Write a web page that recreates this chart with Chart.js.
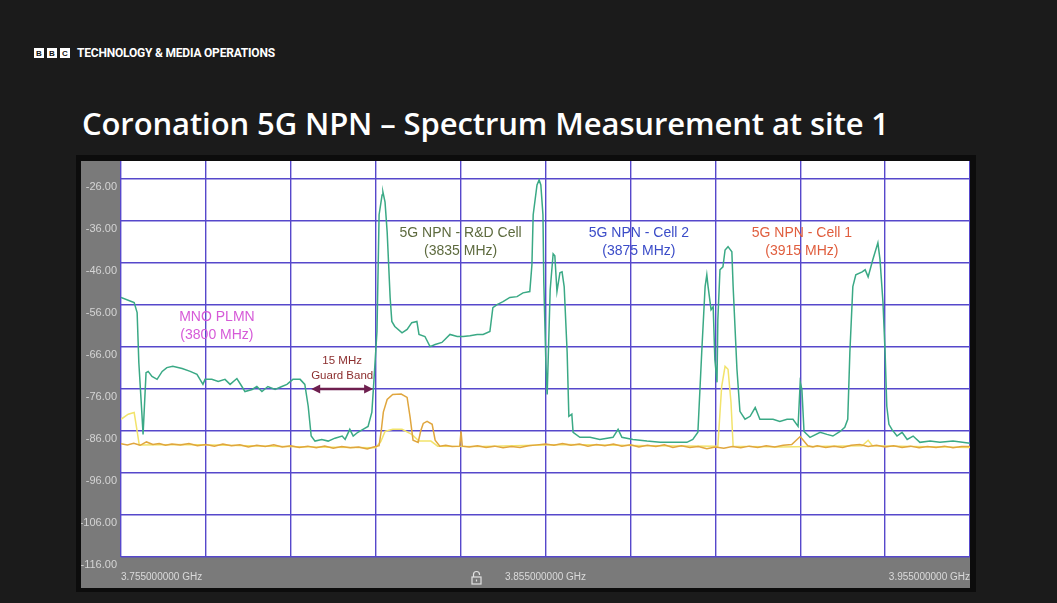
<!DOCTYPE html>
<html>
<head>
<meta charset="utf-8">
<script src="https://cdn.jsdelivr.net/npm/chart.js@4/dist/chart.umd.min.js"></script>
<style>
  html, body { margin: 0; padding: 0; background: #1b1b1b; }
  body { width: 1057px; height: 603px; position: relative; overflow: hidden; font-family: "Open Sans", sans-serif; }
  .brand { position: absolute; left: 34px; top: 46px; display: flex; align-items: center; color: #fff; }
  .brand .blk { width: 10px; height: 10px; background: #fff; color: #111; font: bold 8px "Liberation Sans", sans-serif;
    display: flex; align-items: center; justify-content: center; margin-right: 3px; }
  .brand .txt { margin-left: 4px; font: 700 12px Roboto, sans-serif; letter-spacing: -0.2px; }
  h1 { position: absolute; left: 82px; top: 102px; margin: 0; color: #fff; font: 600 31px "Open Sans", sans-serif; letter-spacing: -0.1px; white-space: nowrap; }
  .frame { position: absolute; left: 76px; top: 155px; width: 900px; height: 437px; background: #0c0c0c; }
  .wrap { position: absolute; left: 81px; top: 161px; width: 889px; height: 427px; }
</style>
</head>
<body>
<div class="brand"><span class="blk">B</span><span class="blk">B</span><span class="blk">C</span><span class="txt">TECHNOLOGY &amp; MEDIA OPERATIONS</span></div>
<h1>Coronation 5G NPN – Spectrum Measurement at site 1</h1>
<div class="frame"></div>
<div class="wrap"><canvas id="chart"></canvas></div>
<script>
// frequency in MHz, level in dBm
const greenFreq = [3755.0, 3757.6, 3758.1, 3758.8, 3759.2, 3759.9, 3760.2, 3760.9, 3761.4, 3762.3, 3763.5, 3764.7, 3765.8, 3767.2, 3769.4, 3771.3, 3772.9, 3774.3, 3774.8, 3776.4, 3777.9, 3779.5, 3780.7, 3782.3, 3783.3, 3784.2, 3785.9, 3787.0, 3788.2, 3789.6, 3791.3, 3792.9, 3794.1, 3795.5, 3797.2, 3798.3, 3799.1, 3799.8, 3800.7, 3802.3, 3803.8, 3805.4, 3807.1, 3807.8, 3808.9, 3809.7, 3810.8, 3812.0, 3813.2, 3814.1, 3814.6, 3815.3, 3815.8, 3816.5, 3816.7, 3817.2, 3817.7, 3818.4, 3818.8, 3819.5, 3821.2, 3822.4, 3823.5, 3824.7, 3825.2, 3826.6, 3827.8, 3829.0, 3830.6, 3832.5, 3834.2, 3835.6, 3837.2, 3838.9, 3840.3, 3841.9, 3842.6, 3843.6, 3845.0, 3846.6, 3848.3, 3849.7, 3851.3, 3851.8, 3852.1, 3853.0, 3853.5, 3853.9, 3854.4, 3854.6, 3855.1, 3855.4, 3856.1, 3856.8, 3857.2, 3857.7, 3858.4, 3858.9, 3859.4, 3860.1, 3860.5, 3861.2, 3861.5, 3863.1, 3865.5, 3867.8, 3870.9, 3872.1, 3873.0, 3875.6, 3878.9, 3882.0, 3885.0, 3888.3, 3889.7, 3890.9, 3891.8, 3892.6, 3893.0, 3893.3, 3894.0, 3894.5, 3894.9, 3895.4, 3895.6, 3896.1, 3896.8, 3897.3, 3898.0, 3898.9, 3899.2, 3900.1, 3900.8, 3902.0, 3903.2, 3904.4, 3905.5, 3907.2, 3908.6, 3910.2, 3911.9, 3913.3, 3914.5, 3915.0, 3915.4, 3915.9, 3917.3, 3919.7, 3921.3, 3922.7, 3924.4, 3925.5, 3926.2, 3926.7, 3927.4, 3928.1, 3929.6, 3930.3, 3931.0, 3932.1, 3933.3, 3933.8, 3934.5, 3935.0, 3935.4, 3935.9, 3936.6, 3937.8, 3939.0, 3940.2, 3941.6, 3943.2, 3945.6, 3947.9, 3951.0, 3955.0];
const greenLevel = [-54.2, -55.2, -55.4, -57.8, -69.7, -81.5, -86.8, -72.1, -71.8, -73.0, -73.7, -71.8, -70.9, -70.6, -71.1, -71.8, -72.5, -74.9, -73.7, -73.7, -74.2, -73.7, -74.9, -73.5, -75.1, -76.6, -76.1, -75.4, -76.6, -75.4, -76.1, -75.4, -74.9, -73.7, -73.7, -74.9, -80.1, -87.2, -88.4, -88.0, -88.4, -87.7, -87.2, -88.0, -85.6, -87.2, -86.3, -85.6, -84.9, -81.5, -73.7, -62.3, -34.5, -29.8, -29.1, -31.5, -38.6, -54.2, -59.9, -61.1, -62.6, -61.8, -60.2, -59.9, -63.0, -63.5, -65.9, -65.4, -64.9, -63.0, -63.5, -63.5, -63.3, -63.0, -63.0, -62.3, -56.6, -55.9, -55.2, -54.2, -54.0, -53.1, -52.8, -46.4, -34.5, -27.4, -26.2, -27.4, -34.5, -50.5, -70.2, -77.3, -52.4, -43.8, -44.3, -52.8, -48.3, -48.1, -51.6, -67.3, -82.5, -82.0, -86.3, -87.5, -87.5, -88.0, -87.5, -85.6, -87.5, -88.0, -88.4, -88.7, -88.7, -88.7, -88.0, -86.3, -67.3, -51.6, -48.8, -51.6, -57.1, -56.4, -69.0, -74.4, -59.5, -47.6, -46.9, -42.9, -42.1, -43.3, -51.6, -71.3, -81.3, -83.2, -82.5, -80.4, -83.2, -83.2, -83.2, -83.7, -83.2, -83.2, -84.9, -74.4, -76.1, -86.1, -87.5, -86.3, -86.8, -87.2, -86.1, -85.1, -83.2, -67.3, -51.6, -48.8, -48.1, -47.6, -49.3, -45.2, -41.2, -45.2, -55.4, -67.3, -80.1, -84.4, -85.6, -87.2, -86.3, -88.0, -87.2, -88.7, -88.4, -88.7, -88.4, -88.9];

const goldFreq = [3755, 3756.5, 3758, 3759.5, 3761, 3762.5, 3764, 3765.5, 3767, 3769, 3771, 3773, 3775, 3777, 3779, 3781, 3783, 3785, 3787, 3789, 3791, 3793, 3795, 3797, 3799, 3801, 3803, 3805, 3807, 3809, 3811, 3813, 3814.5, 3815.8, 3816.3, 3816.8, 3817.7, 3819, 3821, 3822.4, 3823.1, 3823.8, 3825, 3825.6, 3826.2, 3827.1, 3828.3, 3829.0, 3830.1, 3831.5, 3833, 3834.8, 3835.1, 3835.4, 3837, 3839, 3841, 3843, 3845, 3847, 3849, 3851, 3853, 3855, 3857, 3859, 3861, 3863, 3865, 3867, 3869, 3871, 3873, 3875, 3877, 3879, 3881, 3883, 3885, 3887, 3889, 3891, 3893, 3895, 3897, 3899, 3901, 3903, 3905, 3907, 3909, 3911, 3913, 3915, 3916.8, 3918, 3919, 3921, 3923, 3925, 3927, 3929, 3931, 3933, 3935, 3937, 3939, 3941, 3943, 3945, 3947, 3949, 3951, 3953, 3955];
const goldLevel = [-89.0, -89.3, -88.9, -89.4, -88.6, -89.2, -89.0, -89.4, -89.1, -89.3, -89.0, -89.5, -89.2, -89.6, -89.1, -89.5, -89.3, -89.8, -89.4, -89.7, -89.3, -89.8, -89.5, -89.9, -89.6, -90.0, -89.6, -90.1, -89.7, -90.0, -89.8, -90.3, -89.8, -89.5, -86.0, -81.5, -78.5, -77.3, -77.2, -78.0, -82.7, -88.2, -88.7, -86.0, -84.2, -83.7, -84.4, -88.2, -89.6, -89.4, -89.7, -89.6, -86.1, -89.6, -89.8, -89.5, -89.9, -89.6, -90.0, -89.7, -89.9, -89.5, -89.3, -89.1, -89.4, -89.0, -89.4, -89.1, -89.6, -89.2, -89.5, -89.1, -89.6, -89.3, -89.8, -89.4, -89.7, -89.3, -89.9, -89.5, -89.9, -89.7, -90.2, -89.8, -90.1, -89.7, -90.0, -89.6, -89.9, -89.5, -89.8, -89.4, -89.2, -87.3, -89.5, -89.8, -89.5, -89.9, -89.6, -89.9, -89.4, -89.2, -89.7, -89.4, -89.8, -89.5, -89.9, -89.6, -90.0, -89.7, -89.9, -89.6, -90.0, -89.7, -89.7];

const paleFreq = [3755, 3756.7, 3758.1, 3758.8, 3759.3, 3770, 3780, 3790, 3800, 3815, 3816.2, 3817.2, 3819, 3821.2, 3823.5, 3825.2, 3828.0, 3829.6, 3840, 3860, 3880, 3895.6, 3896.5, 3897.3, 3898.0, 3898.7, 3899.2, 3910, 3929.6, 3931.0, 3932.0, 3955];
const paleLevel = [-83.2, -82.0, -81.6, -86.0, -89.3, -89.2, -89.4, -89.6, -89.8, -90.0, -88.5, -86.1, -85.6, -85.6, -86.8, -88.4, -88.4, -89.6, -89.7, -89.2, -89.5, -89.6, -75.4, -70.6, -71.3, -79.2, -89.6, -89.8, -89.5, -88.2, -89.5, -89.9];

const xGridValues = [3755, 3775, 3795, 3815, 3835, 3855, 3875, 3895, 3915, 3935, 3955];
const xLabelValues = [3755, 3855, 3955];
const yTickValues = [-26, -36, -46, -56, -66, -76, -86, -96, -106, -116];

const toPoints = (fs, ls) => fs.map((f, i) => ({ x: f, y: ls[i] }));

const panelPlugin = {
  id: 'panel',
  beforeDraw(chart) {
    const { ctx, chartArea: a } = chart;
    ctx.save();
    ctx.fillStyle = '#7a7a7a';
    ctx.fillRect(0, 0, chart.width, chart.height);
    ctx.fillStyle = '#ffffff';
    ctx.fillRect(a.left, a.top, a.right - a.left, a.bottom - a.top);
    ctx.restore();
  }
};

const notes = [
  { lines: ['MNO PLMN', '(3800 MHz)'], x: 3777.6, y: -58.9, color: '#d65ad8', font: '14px "Liberation Sans"', gap: 18 },
  { lines: ['5G NPN - R&D Cell', '(3835 MHz)'], x: 3835.0, y: -38.8, color: '#5d6a3e', font: '14px "Liberation Sans"', gap: 18 },
  { lines: ['5G NPN - Cell 2', '(3875 MHz)'], x: 3877.0, y: -38.8, color: '#3b4cc8', font: '14px "Liberation Sans"', gap: 18 },
  { lines: ['5G NPN - Cell 1', '(3915 MHz)'], x: 3915.4, y: -38.8, color: '#e05e3e', font: '14px "Liberation Sans"', gap: 18 },
  { lines: ['15 MHz', 'Guard Band'], x: 3807.1, y: -69.4, color: '#8c2e2e', font: '11.5px "Liberation Sans"', gap: 15 }
];

const notesPlugin = {
  id: 'notes',
  afterDatasetsDraw(chart) {
    const { ctx, scales: { x, y } } = chart;
    ctx.save();
    ctx.textAlign = 'center';
    ctx.textBaseline = 'middle';
    notes.forEach(n => {
      ctx.font = n.font;
      ctx.fillStyle = n.color;
      const px = x.getPixelForValue(n.x);
      const py = y.getPixelForValue(n.y);
      n.lines.forEach((t, i) => ctx.fillText(t, px, py + i * n.gap));
    });
    // guard band arrow
    const x1 = x.getPixelForValue(3799.8), x2 = x.getPixelForValue(3814.4);
    const ay = y.getPixelForValue(-76);
    ctx.strokeStyle = '#6e1f4f';
    ctx.fillStyle = '#6e1f4f';
    ctx.lineWidth = 2.5;
    ctx.beginPath();
    ctx.moveTo(x1 + 6, ay);
    ctx.lineTo(x2 - 6, ay);
    ctx.stroke();
    [[x1, 1], [x2, -1]].forEach(([tx, d]) => {
      ctx.beginPath();
      ctx.moveTo(tx, ay);
      ctx.lineTo(tx + d * 9, ay - 4.5);
      ctx.lineTo(tx + d * 9, ay + 4.5);
      ctx.closePath();
      ctx.fill();
    });
    // padlock next to centre frequency
    const lx = x.getPixelForValue(3855) - 69, ly = chart.chartArea.bottom + 16;
    ctx.strokeStyle = '#e2e2e2';
    ctx.lineWidth = 1.2;
    ctx.strokeRect(lx - 4.5, ly + 4, 9, 7);
    ctx.beginPath();
    ctx.arc(lx, ly + 1.5, 3, Math.PI, 0);
    ctx.lineTo(lx + 3, ly + 2);
    ctx.moveTo(lx - 3, ly + 1.5);
    ctx.lineTo(lx - 3, ly + 4);
    ctx.stroke();
    ctx.fillStyle = '#e2e2e2';
    ctx.fillRect(lx - 0.6, ly + 6.5, 1.2, 2);
    ctx.restore();
  }
};

const ctx = document.getElementById('chart').getContext('2d');

const chart = new Chart(ctx, {
  type: 'line',
  data: {
    datasets: [
      { label: 'Trace 1', data: toPoints(greenFreq, greenLevel), borderColor: '#3aa985', borderWidth: 1.5 },
      { label: 'Trace 2', data: toPoints(goldFreq, goldLevel), borderColor: '#e0a63e', borderWidth: 1.5 },
      { label: 'Trace 3', data: toPoints(paleFreq, paleLevel), borderColor: '#f2e36b', borderWidth: 1.5 }
    ]
  },
  options: {
    responsive: true,
    maintainAspectRatio: false,
    animation: false,
    layout: { padding: 0 },
    elements: { point: { radius: 0 }, line: { tension: 0 } },
    plugins: { legend: { display: false }, tooltip: { enabled: false } },
    scales: {
      x: {
        type: 'linear',
        min: 3755,
        max: 3955,
        afterBuildTicks: s => { s.ticks = xGridValues.map(v => ({ value: v })); },
        afterFit: s => { s.height = 31; s.paddingLeft = 0; s.paddingRight = 0; },
        grid: { color: '#5648cb', lineWidth: 1.4, drawTicks: false },
        border: { display: false },
        ticks: {
          autoSkip: false,
          maxRotation: 0,
          align: 'inner',
          padding: 14,
          color: '#dadada',
          font: { family: '"Liberation Sans"', size: 10 },
          callback: v => xLabelValues.includes(v) ? (v / 1000).toFixed(9) + ' GHz' : ''
        }
      },
      y: {
        min: -116,
        max: -21.7,
        afterBuildTicks: s => { s.ticks = yTickValues.map(v => ({ value: v })); },
        afterFit: s => { s.width = 40; s.paddingTop = 0; s.paddingBottom = 0; },
        grid: { color: '#5648cb', lineWidth: 1.4, drawTicks: false },
        border: { display: false },
        ticks: {
          padding: 4,
          labelOffset: 8,
          color: '#d4d4d4',
          font: { family: '"Liberation Sans"', size: 11 },
          callback: v => v.toFixed(2)
        }
      }
    }
  },
  plugins: [panelPlugin, notesPlugin]
});
</script>
</body>
</html>
